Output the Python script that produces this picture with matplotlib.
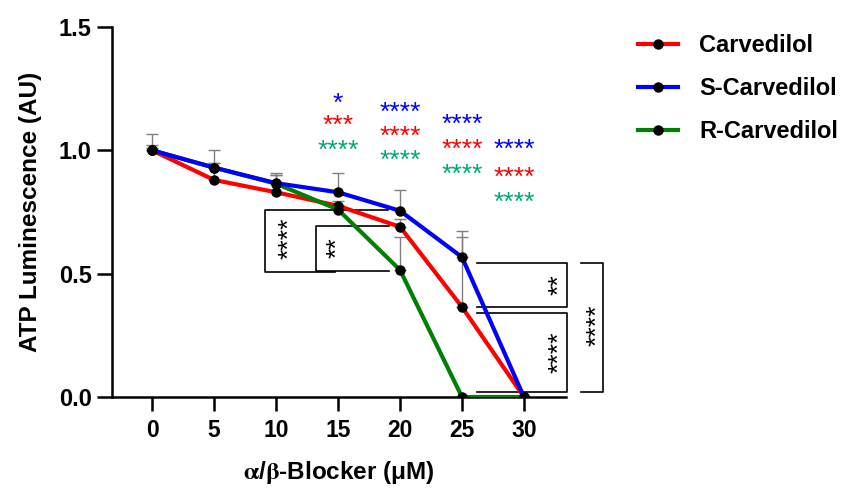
import matplotlib.pyplot as plt
import numpy as np

plt.rcParams['font.family'] = ['Liberation Sans', 'DejaVu Sans']
plt.rcParams['font.weight'] = 'bold'
plt.rcParams['mathtext.fontset'] = 'stix'

# data
dose = [0, 5, 10, 15, 20, 25, 30]
carv = [1.0, 0.88, 0.83, 0.775, 0.69, 0.365, 0.0]
s_carv = [1.0, 0.93, 0.867, 0.83, 0.755, 0.567, 0.0]
r_carv = [1.0, 0.93, 0.865, 0.76, 0.515, 0.0, 0.0]
carv_sd = [0.02, 0.07, 0.07, 0.02, 0.03, 0.285, 0.0]
s_carv_sd = [0.066, 0.07, 0.04, 0.08, 0.085, 0.105, 0.0]
r_carv_sd = [0.01, 0.02, 0.035, 0.02, 0.135, 0.0, 0.0]

# significance stars above points: (x, label, y) per series
sig_x = [15, 20, 25, 29.2]
sig_s = ['*', '****', '****', '****']
sig_s_y = [1.216, 1.18, 1.131, 1.03]
sig_c = ['***', '****', '****', '****']
sig_c_y = [1.127, 1.082, 1.03, 0.916]
sig_r = ['****', '****', '****', '****']
sig_r_y = [1.026, 0.985, 0.928, 0.815]

red = '#FF0000'
blue = '#0000FF'
green = '#008000'
teal = '#00A878'

fig = plt.figure(figsize=(8.48, 4.88), dpi=100)
ax = fig.add_axes([112/848, 1 - 397/488, (566-112)/848, (397-27)/488])

zeros = np.zeros(len(dose))
for vals, sd in [(carv, carv_sd), (r_carv, r_carv_sd), (s_carv, s_carv_sd)]:
    ax.errorbar(dose, vals, yerr=[zeros, sd], fmt='none', ecolor='#808080',
                elinewidth=1, capsize=4, capthick=1, zorder=1)

ax.plot(dose, carv, color=red, lw=3, marker='o', ms=6.5, mfc='k', mec='k',
        label='Carvedilol', zorder=3)
ax.plot(dose, r_carv, color=green, lw=3, marker='o', ms=6.5, mfc='k', mec='k',
        label='R-Carvedilol', zorder=3)
ax.plot(dose, s_carv, color=blue, lw=3, marker='o', ms=6.5, mfc='k', mec='k',
        label='S-Carvedilol', zorder=4)

fs_star = 19


def stars(x, y, s, color, rot=False, weight='normal'):
    # put the ink centre of the asterisks at (x, y)
    if rot:
        ax.annotate(s, (x, y), xytext=(0.53*fs_star, 0), textcoords='offset points',
                    ha='center', va='baseline', rotation=90, rotation_mode='anchor',
                    fontsize=fs_star, color=color, fontweight=weight,
                    annotation_clip=False)
    else:
        ax.annotate(s, (x, y), xytext=(0, -0.53*fs_star), textcoords='offset points',
                    ha='center', va='baseline', fontsize=fs_star, color=color,
                    fontweight=weight, annotation_clip=False)


for i in range(len(sig_x)):
    stars(sig_x[i], sig_s_y[i], sig_s[i], blue)
    stars(sig_x[i], sig_c_y[i], sig_c[i], red)
    stars(sig_x[i], sig_r_y[i], sig_r[i], teal)

# brackets
kw = dict(color='k', lw=1.2, clip_on=False)
ax.plot([19.03, 9.11, 9.11, 14.76], [0.758, 0.758, 0.507, 0.507], **kw)
ax.plot([19.1, 13.23, 13.23, 19.1], [0.693, 0.693, 0.511, 0.511], **kw)
ax.plot([26.2, 33.47, 33.47, 26.2], [0.543, 0.543, 0.365, 0.365], **kw)
ax.plot([26.2, 33.47, 33.47, 26.2], [0.341, 0.341, 0.02, 0.02], **kw)
ax.plot([34.6, 36.37, 36.37, 34.6], [0.543, 0.543, 0.02, 0.02], **kw)
stars(10.5, 0.645, '****', 'k', rot=True)
stars(14.35, 0.604, '**', 'k', rot=True)
stars(32.26, 0.454, '**', 'k', rot=True)
stars(32.26, 0.182, '****', 'k', rot=True)
stars(35.4, 0.292, '****', 'k', rot=True)

ax.set_xlim(-3.23, 33.39)
ax.set_ylim(0, 1.5)
ax.set_xticks(dose)
ax.set_yticks([0, 0.5, 1.0, 1.5])
ax.set_yticklabels(['0.0', '0.5', '1.0', '1.5'])
for s in ['top', 'right']:
    ax.spines[s].set_visible(False)
for s in ['left', 'bottom']:
    ax.spines[s].set_linewidth(1.8)
ax.tick_params(axis='y', length=10.5, width=1.8, labelsize=17, pad=4)
ax.tick_params(axis='x', length=10, width=1.8, labelsize=16.5, pad=6)

ax.set_ylabel('ATP Luminescence (AU)', fontsize=17.5, fontweight='bold', labelpad=12)
ax.set_xlabel(r'$\mathrm{\alpha}$/$\mathrm{\beta}$-Blocker (μM)', fontsize=17.5,
              fontweight='bold', labelpad=12)

h, l = ax.get_legend_handles_labels()
order = [0, 2, 1]
ax.legend([h[i] for i in order], [l[i] for i in order], loc='upper left',
          bbox_to_anchor=(638/848, 1 - 34/488), bbox_transform=fig.transFigure,
          frameon=False, fontsize=17, handlelength=1.7, handletextpad=0.9,
          labelspacing=0.85, borderpad=0, borderaxespad=0)

fig.savefig('out.png', dpi=100)
